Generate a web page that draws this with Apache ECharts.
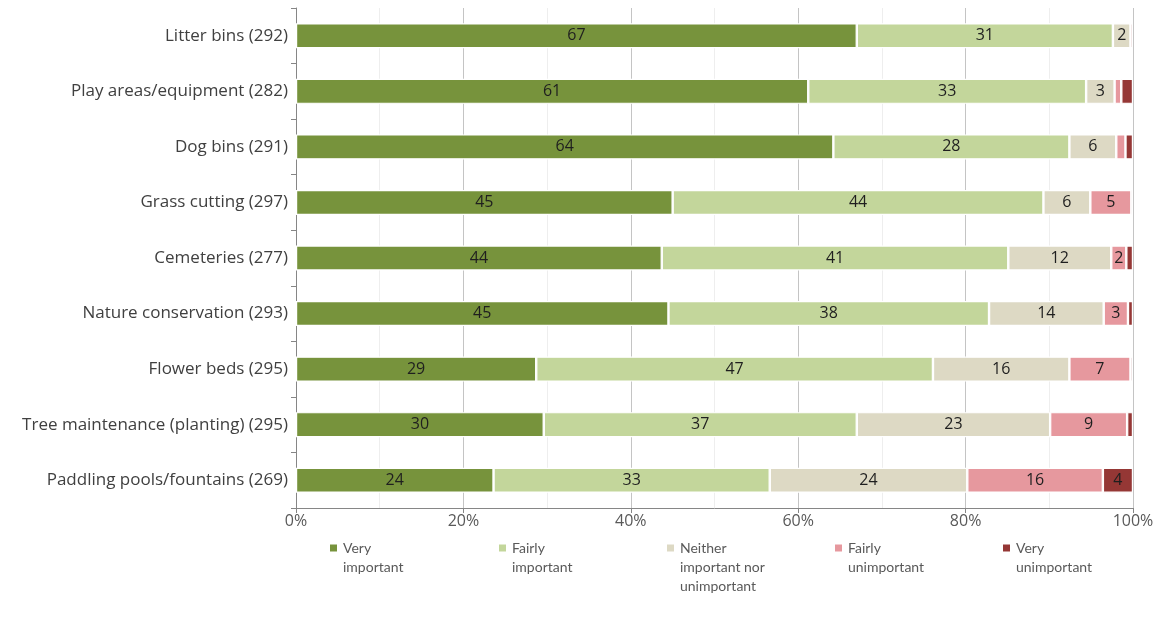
<!DOCTYPE html>
<html>
<head>
<meta charset="utf-8">
<script src="https://cdn.jsdelivr.net/npm/echarts@6/dist/echarts.min.js"></script>
<style>
html,body{margin:0;padding:0;background:#fff;}
#chart{width:1168px;height:633px;}
</style>
</head>
<body>
<div id="chart"></div>
<script>
// Categories (top to bottom)
const categories = [
  'Litter bins (292)',
  'Play areas/equipment (282)',
  'Dog bins (291)',
  'Grass cutting (297)',
  'Cemeteries (277)',
  'Nature conservation (293)',
  'Flower beds (295)',
  'Tree maintenance (planting) (295)',
  'Paddling pools/fountains (269)'
];
const seriesNames = ['Very important', 'Fairly important', 'Neither important nor unimportant', 'Fairly unimportant', 'Very unimportant'];
const legendLabels = ['Very\nimportant', 'Fairly\nimportant', 'Neither\nimportant nor\nunimportant', 'Fairly\nunimportant', 'Very\nunimportant'];
// Percentages per category
const veryImportant       = [67.0, 61.2, 64.2, 45.0, 43.7, 44.5, 28.7, 29.6, 23.6];
const fairlyImportant     = [30.6, 33.2, 28.2, 44.3, 41.4, 38.3, 47.4, 37.4, 33.0];
const neitherImportant    = [2.1,  3.4,  5.6,  5.6,  12.3, 13.7, 16.3, 23.1, 23.6];
const fairlyUnimportant   = [0.0,  0.8,  1.1,  4.9,  1.8,  2.9,  7.3,  9.2,  16.2];
const veryUnimportant     = [0.3,  1.4,  0.9,  0.2,  0.8,  0.6,  0.3,  0.7,  3.6];
const xTickLabels = ['0%', '20%', '40%', '60%', '80%', '100%'];

const colors = ['#77933C', '#C3D69B', '#DDD9C4', '#E6989E', '#953735'];
const allValues = [veryImportant, fairlyImportant, neitherImportant, fairlyUnimportant, veryUnimportant];

const axisFont = '"Open Sans", "Noto Sans", sans-serif';
const legendFont = 'Lato, "Open Sans", sans-serif';

const series = seriesNames.map((name, i) => ({
  name: name,
  type: 'bar',
  stack: 'total',
  barWidth: 25,
  data: allValues[i],
  itemStyle: { color: colors[i], borderColor: '#ffffff', borderWidth: 1.2 },
  label: {
    show: true,
    position: 'inside',
    color: '#1f1f1f',
    fontSize: 16,
    fontFamily: axisFont,
    formatter: p => (p.value >= 1.5 ? String(Math.round(p.value)) : '')
  },
  emphasis: { disabled: true }
}));

const legendX = [328, 497, 665, 833, 1001];
const lineH = 19;
const firstLineY = 548;
const legends = seriesNames.map((name, i) => {
  const nLines = legendLabels[i].split('\n').length;
  const padLines = nLines - 1;
  const total = (nLines + padLines) * lineH;
  return {
    data: [name],
    left: legendX[i],
    top: firstLineY - total / 2,
    padding: 0,
    orient: 'horizontal',
    icon: 'rect',
    itemWidth: 9,
    itemHeight: 9,
    itemGap: 0,
    selectedMode: false,
    formatter: () => '\n'.repeat(padLines) + legendLabels[i],
    textStyle: {
      color: '#595959',
      fontSize: 14,
      fontFamily: legendFont,
      lineHeight: lineH
    }
  };
});

const chart = echarts.init(document.getElementById('chart'), null, { renderer: 'canvas' });
chart.setOption({
  animation: false,
  color: colors,
  grid: { left: 296, right: 35, top: 8, bottom: 125, containLabel: false },
  legend: legends,
  xAxis: {
    type: 'value',
    min: 0,
    max: 100,
    interval: 20,
    axisLine: { show: true, lineStyle: { color: '#868686', width: 1 } },
    axisTick: { show: true, length: 5, lineStyle: { color: '#868686' } },
    axisLabel: {
      color: '#595959',
      fontSize: 16,
      fontFamily: axisFont,
      margin: 5,
      formatter: v => xTickLabels[Math.round(v / 20)]
    },
    splitLine: { show: true, lineStyle: { color: '#C4C4C4', width: 1 } },
    minorTick: { show: false, splitNumber: 2 },
    minorSplitLine: { show: true, lineStyle: { color: '#EEEEEE', width: 1 } }
  },
  yAxis: {
    type: 'category',
    data: categories,
    inverse: true,
    axisLine: { show: true, lineStyle: { color: '#868686', width: 1 } },
    axisTick: { show: true, length: 5, alignWithLabel: false, lineStyle: { color: '#868686' } },
    axisLabel: {
      color: '#404040',
      fontSize: 17,
      fontFamily: axisFont,
      margin: 8
    },
    splitLine: { show: false }
  },
  series: series
});
</script>
</body>
</html>
